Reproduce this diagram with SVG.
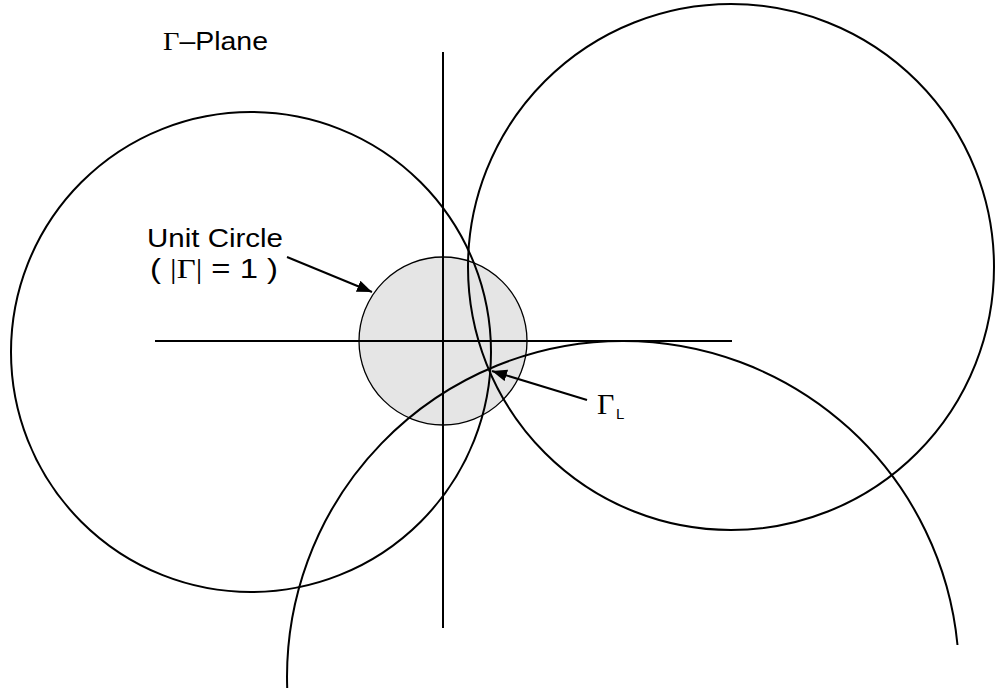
<svg xmlns="http://www.w3.org/2000/svg" width="996" height="689" viewBox="0 0 996 689">
  <style>
    .curve { fill: none; stroke: #000; stroke-width: 2; }
    .axis { stroke: #000; stroke-width: 2; fill: none; }
    .sans { font-family: "Liberation Sans", Arial, sans-serif; fill: #000; }
    .serif { font-family: "Liberation Serif", "Times New Roman", serif; fill: #000; }
    .arrow { stroke: #000; stroke-width: 2; fill: none; marker-end: url(#ah); }
  </style>
  <defs>
    <marker id="ah" markerUnits="userSpaceOnUse" markerWidth="16" markerHeight="12" refX="15" refY="6" orient="auto">
      <path d="M0,0 L15,6 L0,12 Z" fill="#000"/>
    </marker>
  </defs>
  <rect width="996" height="689" fill="#fff"/>

  <g id="unit-circle">
    <circle cx="443" cy="341" r="84" fill="#e5e5e5" stroke="#000" stroke-width="1.3"/>
  </g>

  <g id="axes">
    <line class="axis" x1="155" y1="341" x2="732" y2="341"/>
    <line class="axis" x1="443" y1="52" x2="443" y2="628"/>
  </g>

  <g id="left-circle">
    <circle class="curve" cx="251" cy="352" r="240"/>
  </g>
  <g id="right-circle">
    <circle class="curve" cx="731" cy="267" r="263"/>
  </g>
  <g id="bottom-arc">
    <path class="curve" d="M287.2,688 A336,336 0 0 1 623,341 A336,336 0 0 1 957.5,645"/>
  </g>

  <g id="title">
    <text x="163" y="50" font-size="25" textLength="105" lengthAdjust="spacingAndGlyphs"><tspan class="serif">Γ</tspan><tspan class="sans">–Plane</tspan></text>
  </g>

  <g id="unit-circle-label">
    <text class="sans" x="147" y="247" font-size="26" textLength="136" lengthAdjust="spacingAndGlyphs">Unit Circle</text>
    <text x="150" y="278" font-size="27" textLength="128" lengthAdjust="spacingAndGlyphs"><tspan class="sans">( </tspan><tspan class="serif">|Γ|</tspan><tspan class="sans"> = 1 )</tspan></text>
  </g>

  <g id="gamma-l-label">
    <text class="serif" x="597" y="414" font-size="30">Γ</text>
    <text class="sans" x="616" y="419" font-size="15">L</text>
  </g>

  <g id="connectors">
    <line class="arrow" x1="287" y1="257" x2="372" y2="292"/>
    <line class="arrow" x1="587" y1="400" x2="492" y2="371"/>
  </g>
</svg>
